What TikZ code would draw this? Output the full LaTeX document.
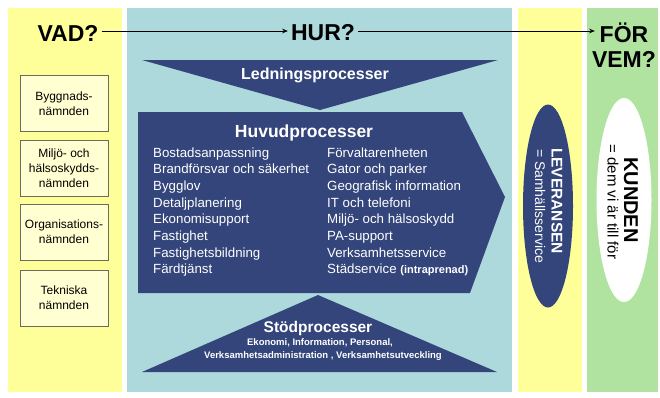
\documentclass[tikz,border=0pt]{standalone}
\usepackage{fontspec}
\setmainfont{Liberation Sans}
\usetikzlibrary{arrows.meta,shapes.geometric}
\definecolor{bandyel}{HTML}{FFFF99}
\definecolor{bandblue}{HTML}{ADD9DC}
\definecolor{bandgreen}{HTML}{AFE39F}
\definecolor{navy}{HTML}{33457A}
\definecolor{boxfill}{HTML}{FFFFD2}
\definecolor{boxline}{HTML}{6B6B5E}
\tikzset{
  qlab/.style   = {font=\fontsize{23}{25}\selectfont\bfseries, inner sep=3pt, align=center},
  qarr/.style   = {-{Stealth[length=2mm,width=1.6mm]}, line width=0.75pt},
  nbox/.style   = {draw=boxline, fill=boxfill, line width=0.8pt,
                   minimum width=88pt, minimum height=56pt, align=center,
                   font=\fontsize{12}{15}\selectfont},
  ptitle/.style = {text=white, font=\fontsize{16}{18}\selectfont\bfseries, inner sep=0pt},
  pitem/.style  = {text=white, anchor=base west, inner sep=0pt,
                   font=\fontsize{13.3}{15}\selectfont},
  psmall/.style = {text=white, inner sep=0pt, font=\fontsize{9.5}{11}\selectfont\bfseries},
  levell/.style = {ellipse, fill=navy, minimum width=50pt, minimum height=203pt, inner sep=0pt},
  kundell/.style= {ellipse, fill=white, minimum width=55pt, minimum height=204pt, inner sep=0pt},
  vtext/.style  = {rotate=-90, inner sep=0pt},
}

\begin{document}
\begin{tikzpicture}[x=1pt,y=-1pt]
  \useasboundingbox (0,0) rectangle (660,397);
  % bands
  \fill[bandyel]   (8,8)   rectangle (122,392);
  \fill[bandblue]  (127,8) rectangle (512,392);
  \fill[bandyel]   (518,8) rectangle (582,392);
  \fill[bandgreen] (587,8) rectangle (658,392);

  % questions
  \node[qlab] (vad) at (68,33) {VAD?};
  \node[qlab] (hur) at (323,33) {HUR?};
  \node[qlab] (forvem) at (624,45) {FÖR\\VEM?};
  \draw[qarr] ([yshift=2pt]vad.east) -- ([yshift=2pt]hur.west);
  \draw[qarr] ([yshift=2pt]hur.east) -- ([xshift=6pt,yshift=2pt]hur.east -| forvem.west);

  % namnder
  \node[nbox] (byggn) at (64,103.5) {Byggnads-\\nämnden};
  \node[nbox] (miljon) at (64,168.5) {Miljö- och\\hälsoskydds-\\nämnden};
  \node[nbox] (orgn) at (64,232) {Organisations-\\nämnden};
  \node[nbox] (tekn) at (64,298) {Tekniska\\nämnden};

  % processer
  \fill[navy] (142,60) -- (498,60) -- (320,110) -- cycle;
  \node[ptitle] (ledn) at (315,75) {Ledningsprocesser};

  \fill[navy] (138,112) -- (462,112) -- (505,197) -- (470,293) -- (138,293) -- cycle;
  \node[ptitle, font=\fontsize{17.5}{19}\selectfont\bfseries] (huvud) at (304,133) {Huvudprocesser};
  \foreach \t [count=\i] in {Bostadsanpassning, Brandförsvar och säkerhet, Bygglov,
      Detaljplanering, Ekonomisupport, Fastighet, Fastighetsbildning, Färdtjänst}
    \node[pitem] (v\i) at (153,{157+16.7*(\i-1)}) {\t};
  \foreach \t [count=\i] in {Förvaltarenheten, Gator och parker, Geografisk information,
      IT och telefoni, Miljö- och hälsoskydd, PA-support, Verksamhetsservice,
      Städservice {\fontsize{11}{13}\selectfont\bfseries(intraprenad)}}
    \node[pitem] (h\i) at (327,{157+16.7*(\i-1)}) {\t};

  \fill[navy] (318,295) -- (497,372) -- (142,372) -- cycle;
  \node[ptitle, font=\fontsize{15.5}{17}\selectfont\bfseries] (stod) at (318,328) {Stödprocesser};
  \node[psmall] (stod1) at (320,343) {Ekonomi, Information, Personal,};
  \node[psmall] (stod2) at (323,356) {Verksamhetsadministration , Verksamhetsutveckling};

  % leveransen / kunden
  \node[levell] (lev) at (548,206) {};
  \node[vtext, text=white, font=\fontsize{15.5}{17}\selectfont\bfseries] (levt) at (557,201) {LEVERANSEN};
  \node[vtext, text=white, font=\fontsize{14}{16}\selectfont] (levs) at (540,206) {= Samhällsservice};
  \node[kundell] (kund) at (624,200) {};
  \node[vtext, font=\fontsize{20}{22}\selectfont\bfseries] (kundt) at (631,200) {KUNDEN};
  \node[vtext, font=\fontsize{15}{17}\selectfont] (kunds) at (613,202) {= dem vi är till för};
\end{tikzpicture}
\end{document}
